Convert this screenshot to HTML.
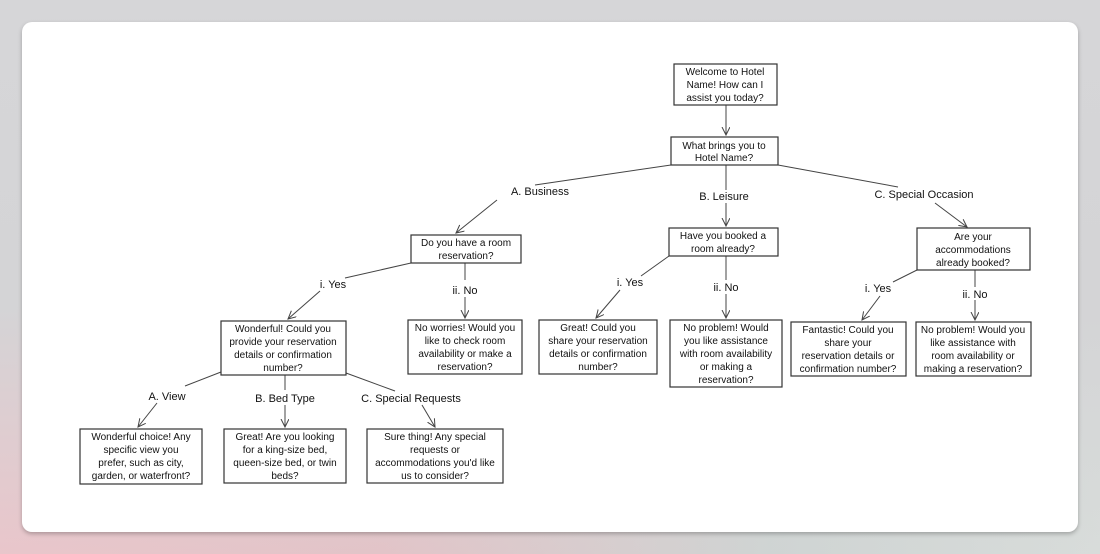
<!DOCTYPE html>
<html><head><meta charset="utf-8"><style>
html,body{margin:0;padding:0;width:1100px;height:554px;overflow:hidden}
body{background:linear-gradient(180deg,#d6d6d8 0%,#d4d4d6 55%,rgba(0,0,0,0) 100%),linear-gradient(90deg,#e9c6cb 0%,#e2c4c8 35%,#cfd4d3 70%,#d8dcda 100%);}
.card{position:absolute;left:22px;top:22px;width:1056px;height:510px;background:#fff;border-radius:10px;box-shadow:0 2px 4px rgba(0,0,0,.25)}
svg{position:absolute;left:0;top:0}
text{font-family:"Liberation Sans",sans-serif;font-size:10px;fill:#111;text-anchor:middle}
text.l{font-size:11px}
rect{fill:#fff;stroke:#333;stroke-width:1.2}
line{stroke:#444;stroke-width:1}
</style></head><body>
<div class="card"></div>
<svg width="1100" height="554">
<defs><marker id="a" markerWidth="10" markerHeight="10" refX="8" refY="4" orient="auto" markerUnits="userSpaceOnUse"><path d="M0,0 L8,4 L0,8" fill="none" stroke="#444" stroke-width="1"/></marker></defs>
<g>
<line x1="726" y1="105" x2="726" y2="135" marker-end="url(#a)"/>
<line x1="671" y1="165" x2="535" y2="185"/><line x1="497" y1="200" x2="456" y2="233" marker-end="url(#a)"/>
<line x1="726" y1="165" x2="726" y2="190"/><line x1="726" y1="203" x2="726" y2="226" marker-end="url(#a)"/>
<line x1="778" y1="165" x2="898" y2="187"/><line x1="935" y1="203" x2="967" y2="227" marker-end="url(#a)"/>
<line x1="411" y1="263" x2="345" y2="278"/><line x1="320" y1="291" x2="288" y2="319" marker-end="url(#a)"/>
<line x1="465" y1="263" x2="465" y2="280"/><line x1="465" y1="297" x2="465" y2="318" marker-end="url(#a)"/>
<line x1="669" y1="256" x2="641" y2="276"/><line x1="620" y1="290" x2="596" y2="318" marker-end="url(#a)"/>
<line x1="726" y1="256" x2="726" y2="280"/><line x1="726" y1="294" x2="726" y2="318" marker-end="url(#a)"/>
<line x1="917" y1="270" x2="893" y2="282"/><line x1="880" y1="296" x2="862" y2="320" marker-end="url(#a)"/>
<line x1="975" y1="270" x2="975" y2="287"/><line x1="975" y1="300" x2="975" y2="320" marker-end="url(#a)"/>
<line x1="221" y1="372" x2="185" y2="386"/><line x1="157" y1="403" x2="138" y2="427" marker-end="url(#a)"/>
<line x1="285" y1="375" x2="285" y2="390"/><line x1="285" y1="405" x2="285" y2="427" marker-end="url(#a)"/>
<line x1="346" y1="373" x2="395" y2="391"/><line x1="422" y1="405" x2="435" y2="427" marker-end="url(#a)"/>
</g>
<text class="l" x="540" y="195">A. Business</text>
<text class="l" x="724" y="200">B. Leisure</text>
<text class="l" x="924" y="198">C. Special Occasion</text>
<text class="l" x="333" y="288">i. Yes</text>
<text class="l" x="465" y="294">ii. No</text>
<text class="l" x="630" y="286">i. Yes</text>
<text class="l" x="726" y="291">ii. No</text>
<text class="l" x="878" y="292">i. Yes</text>
<text class="l" x="975" y="298">ii. No</text>
<text class="l" x="167" y="400">A. View</text>
<text class="l" x="285" y="402">B. Bed Type</text>
<text class="l" x="411" y="402">C. Special Requests</text>

<rect x="674" y="64" width="103" height="41"/>
<text x="725" y="75">Welcome to Hotel</text><text x="725" y="88">Name! How can I</text><text x="725" y="101">assist you today?</text>
<rect x="671" y="137" width="107" height="28"/>
<text x="724" y="149">What brings you to</text><text x="724" y="161">Hotel Name?</text>
<rect x="411" y="235" width="110" height="28"/>
<text x="466" y="246">Do you have a room</text><text x="466" y="259">reservation?</text>
<rect x="669" y="228" width="109" height="28"/>
<text x="723" y="239">Have you booked a</text><text x="723" y="252">room already?</text>
<rect x="917" y="228" width="113" height="42"/>
<text x="973" y="240">Are your</text><text x="973" y="253">accommodations</text><text x="973" y="266">already booked?</text>
<rect x="221" y="321" width="125" height="54"/>
<text x="283" y="332">Wonderful! Could you</text><text x="283" y="345">provide your reservation</text><text x="283" y="358">details or confirmation</text><text x="283" y="371">number?</text>
<rect x="408" y="320" width="114" height="54"/>
<text x="465" y="331">No worries! Would you</text><text x="465" y="344">like to check room</text><text x="465" y="357">availability or make a</text><text x="465" y="370">reservation?</text>
<rect x="539" y="320" width="118" height="54"/>
<text x="598" y="331">Great! Could you</text><text x="598" y="344">share your reservation</text><text x="598" y="357">details or confirmation</text><text x="598" y="370">number?</text>
<rect x="670" y="320" width="112" height="67"/>
<text x="726" y="331">No problem! Would</text><text x="726" y="344">you like assistance</text><text x="726" y="357">with room availability</text><text x="726" y="370">or making a</text><text x="726" y="383">reservation?</text>
<rect x="791" y="322" width="115" height="54"/>
<text x="848" y="333">Fantastic! Could you</text><text x="848" y="346">share your</text><text x="848" y="359">reservation details or</text><text x="848" y="372">confirmation number?</text>
<rect x="916" y="322" width="115" height="54"/>
<text x="973" y="333">No problem! Would you</text><text x="973" y="346">like assistance with</text><text x="973" y="359">room availability or</text><text x="973" y="372">making a reservation?</text>
<rect x="80" y="429" width="122" height="55"/>
<text x="141" y="440">Wonderful choice! Any</text><text x="141" y="453">specific view you</text><text x="141" y="466">prefer, such as city,</text><text x="141" y="479">garden, or waterfront?</text>
<rect x="224" y="429" width="122" height="54"/>
<text x="285" y="440">Great! Are you looking</text><text x="285" y="453">for a king-size bed,</text><text x="285" y="466">queen-size bed, or twin</text><text x="285" y="479">beds?</text>
<rect x="367" y="429" width="136" height="54"/>
<text x="435" y="440">Sure thing! Any special</text><text x="435" y="453">requests or</text><text x="435" y="466">accommodations you'd like</text><text x="435" y="479">us to consider?</text>
</svg>
</body></html>
